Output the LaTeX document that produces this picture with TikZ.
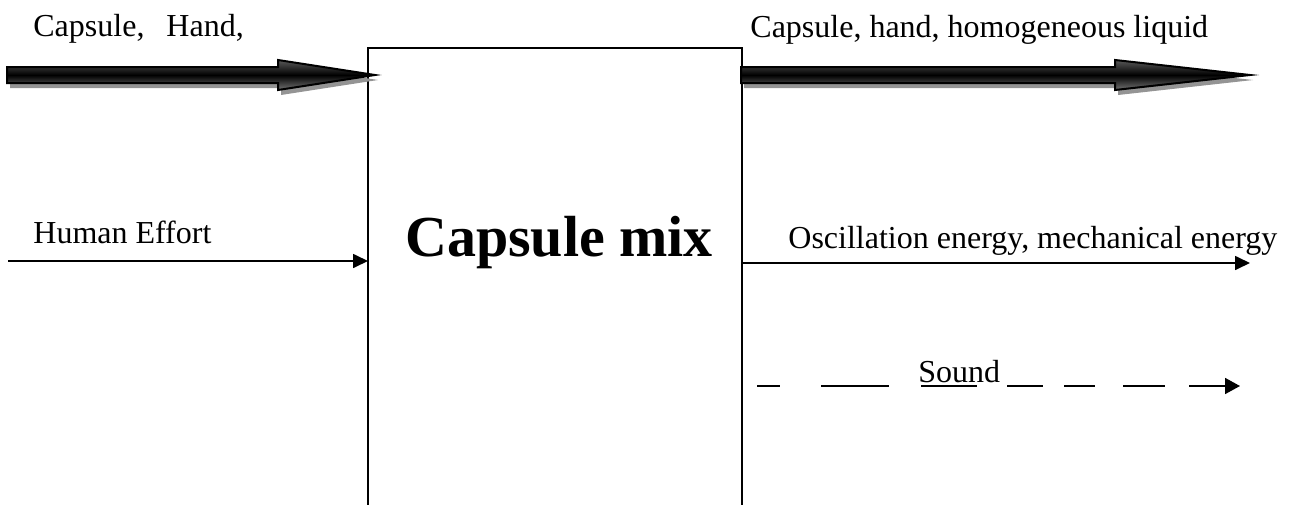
\documentclass[tikz,border=0pt]{standalone}
\usepackage{fontspec}
\setmainfont{Liberation Serif}
\usetikzlibrary{arrows.meta,calc}

% outline of a fat block arrow: tail x, head-base x, tip x, centre y
\newcommand\fatshape[4]{(#1,#4-8) -- (#2,#4-8) -- (#2,#4-15) -- (#3,#4) -- (#2,#4+15) -- (#2,#4+8) -- (#1,#4+8) -- cycle}

\begin{document}
\begin{tikzpicture}[x=0.5pt,y=-0.5pt,
  lbl/.style={anchor=base west,inner sep=0pt,font=\fontsize{16}{19}\selectfont},
  title/.style={anchor=base,inner sep=0pt,font=\fontsize{29}{35}\selectfont\bfseries},
  thinarrow/.style={line width=0.85pt,-{Triangle[length=7.5pt,width=7pt]}},
  soundline/.style={line width=0.9pt,-{Triangle[length=7.5pt,width=8pt]},
    dash pattern=on 11.5pt off 20.5pt on 34pt off 16pt on 28pt off 15pt on 18pt off 10.5pt on 15.5pt off 14pt on 21pt off 12pt on 40pt off 10pt},
  fatshadow/.style={fill=black!42},
  fat/.style={draw=black,line width=1pt,line join=miter,top color=black!65,bottom color=black!55,middle color=black},
  boxline/.style={line width=1.3pt,line join=miter}]
\useasboundingbox (0,0) rectangle (1291,504);

% process block, open at the bottom
\node[anchor=north west,inner sep=0pt,minimum width=186.5pt,minimum height=228pt] (box) at (368,48) {};
\draw[boxline] (box.south west) |- (box.north east) -- (box.south east);
\node[title] (title) at (559,256) {Capsule mix};

% material flows
\fill[fatshadow,shift={(3,5)}] \fatshape{7}{278}{375}{75};
\path[fat] \fatshape{7}{278}{375}{75};
\fill[fatshadow,shift={(3,5)}] \fatshape{741}{1115}{1250}{75};
\path[fat] \fatshape{741}{1115}{1250}{75};
\node[lbl] (inLbl) at (33,36) {Capsule,\hspace{11pt}Hand,};
\node[lbl] (outLbl) at (750,37) {Capsule, hand, homogeneous liquid};

% energy flows
\coordinate (effortIn) at (8,261);
\draw[thinarrow] (effortIn) -- (effortIn -| box.west);
\node[lbl] (effortLbl) at (33,243) {Human Effort};
\coordinate (oscOut) at (1250,263);
\draw[thinarrow] (oscOut -| box.east) -- (oscOut);
\node[lbl] (oscLbl) at (788,248) {Oscillation energy, mechanical energy};

% signal flow
\coordinate (soundA) at (757,386);
\coordinate (soundB) at (1240,386);
\draw[soundline] (soundA) -- (soundB);
\node[lbl] (soundLbl) at (918,382) {Sound};
\end{tikzpicture}
\end{document}
